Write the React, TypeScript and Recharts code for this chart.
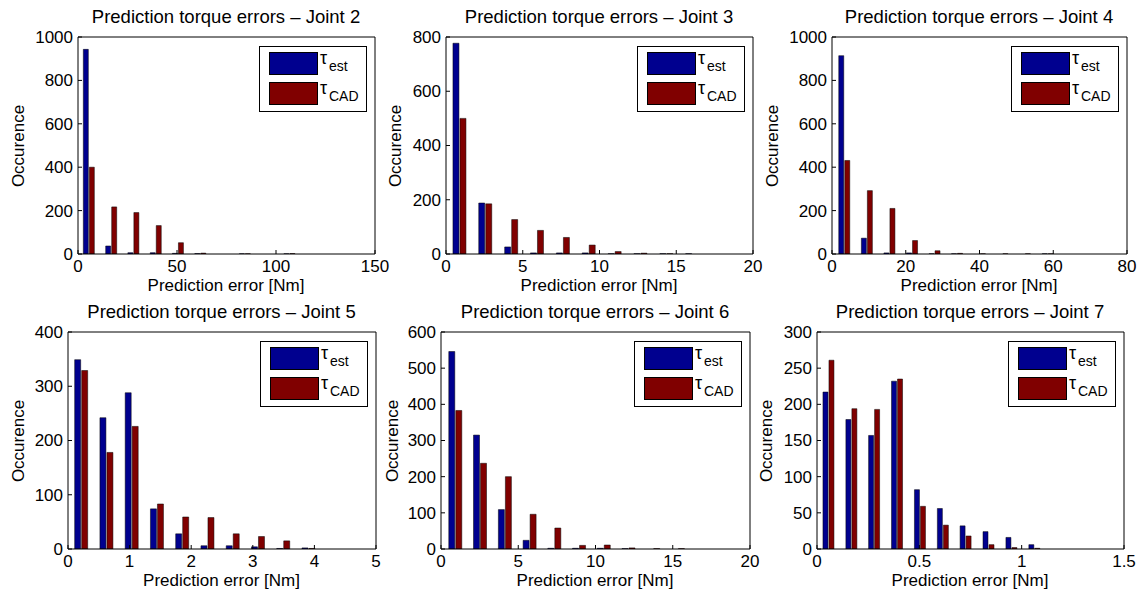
import React from "react";
import { BarChart, Bar, XAxis, YAxis, Legend } from "recharts";

// bin centres and counts per joint
const j2Bins = [5.6, 16.9, 28.1, 39.4, 50.6, 61.9, 73.1, 84.4, 95.6, 106.9];
const j2Est = [943, 37, 6, 6, 3, 2, 0, 1, 0, 1];
const j2Cad = [400, 217, 191, 131, 52, 4, 0, 1, 0, 2];

const j3Bins = [0.89, 2.57, 4.26, 5.94, 7.63, 9.31, 11.0, 12.68, 14.37, 16.05];
const j3Est = [777, 188, 26, 4, 4, 4, 1, 1, 1, 1];
const j3Cad = [500, 185, 127, 87, 61, 33, 9, 3, 1, 0];

const j4Bins = [3.42, 9.55, 15.67, 21.8, 27.9, 34.0, 40.2, 46.3, 52.4, 58.6];
const j4Est = [914, 73, 5, 5, 1, 1, 0, 0, 0, 1];
const j4Cad = [431, 292, 210, 62, 15, 3, 1, 1, 1, 1];

const j5Bins = [0.215, 0.625, 1.035, 1.445, 1.855, 2.265, 2.675, 3.085, 3.495, 3.905];
const j5Est = [349, 242, 288, 74, 28, 6, 6, 4, 1, 2];
const j5Cad = [329, 178, 226, 83, 59, 58, 28, 23, 15, 1];

const j6Bins = [0.92, 2.52, 4.13, 5.73, 7.33, 8.93, 10.53, 12.13, 13.73, 15.33];
const j6Est = [546, 315, 109, 24, 2, 2, 2, 1, 0, 0];
const j6Cad = [383, 237, 200, 96, 58, 10, 11, 3, 1, 1];

const j7Bins = [0.058, 0.17, 0.281, 0.393, 0.505, 0.617, 0.728, 0.84, 0.952, 1.064];
const j7Est = [217, 179, 157, 232, 82, 56, 32, 24, 16, 6];
const j7Cad = [261, 194, 193, 235, 59, 33, 18, 6, 2, 1];

const xTicks2 = [0, 50, 100, 150];
const xTicks3 = [0, 5, 10, 15, 20];
const xTicks4 = [0, 20, 40, 60, 80];
const xTicks5 = [0, 1, 2, 3, 4, 5];
const xTicks6 = [0, 5, 10, 15, 20];
const xTicks7 = [0, 0.5, 1, 1.5];

const yTicks2 = [0, 200, 400, 600, 800, 1000];
const yTicks3 = [0, 200, 400, 600, 800];
const yTicks4 = [0, 200, 400, 600, 800, 1000];
const yTicks5 = [0, 100, 200, 300, 400];
const yTicks6 = [0, 100, 200, 300, 400, 500, 600];
const yTicks7 = [0, 50, 100, 150, 200, 250, 300];

const FONT = "'Liberation Sans', Arial, Helvetica, sans-serif";
const BLUE = "#00008f";
const RED = "#800000";
const ML = 70, MT = 30, MR = 20, MB = 40;

type Box = { x: number; y: number; w: number; h: number };

function LegendBox() {
  return (
    <svg width={108} height={66} style={{ display: "block", fontFamily: FONT }}>
      <rect x={0.5} y={0.5} width={107} height={65} fill="#fff" stroke="#000" />
      <rect x={10.5} y={6.5} width={48} height={22} fill={BLUE} stroke="#000" />
      <text x={61} y={18} fontSize={18}>τ</text>
      <text x={70} y={25} fontSize={14}>est</text>
      <rect x={10.5} y={36.5} width={48} height={22} fill={RED} stroke="#000" />
      <text x={61} y={48} fontSize={18}>τ</text>
      <text x={70} y={55} fontSize={14}>CAD</text>
    </svg>
  );
}

function Panel({ title, bins, est, cad, xTicks, yTicks, box, yLab }: {
  title: string; bins: number[]; est: number[]; cad: number[];
  xTicks: number[]; yTicks: number[]; box: Box; yLab: number;
}) {
  const data = bins.map((x, i) => ({ x, est: est[i], cad: cad[i] }));
  const xDom = [xTicks[0], xTicks[xTicks.length - 1]];
  const yDom = [yTicks[0], yTicks[yTicks.length - 1]];

  const xTick = (p: any) => (
    <g>
      <line x1={p.x} x2={p.x} y1={p.y} y2={p.y - 4} stroke="#000" />
      <text x={p.x} y={p.y + 12} dy="0.35em" textAnchor="middle" fontSize={17} fill="#000" fontFamily={FONT}>
        {p.payload.value}
      </text>
    </g>
  );
  const yTick = (p: any) => (
    <g>
      <line x1={p.x} x2={p.x + 4} y1={p.y} y2={p.y} stroke="#000" />
      <text x={p.x - 5} y={p.y} dy="0.35em" textAnchor="end" fontSize={17} fill="#000" fontFamily={FONT}>
        {p.payload.value}
      </text>
    </g>
  );

  const label: React.CSSProperties = {
    position: "absolute", whiteSpace: "nowrap", fontFamily: FONT, color: "#000",
    transform: "translate(-50%, -50%)", lineHeight: 1,
  };

  return (
    <>
      <div style={{ position: "absolute", left: box.x - ML, top: box.y - MT }}>
        <BarChart
          width={box.w + ML + MR}
          height={box.h + MT + MB}
          data={data}
          margin={{ top: MT - 1, right: MR - 1, bottom: 10, left: ML - 45 }}
          barCategoryGap="24%"
          barGap={1}
        >
          <XAxis dataKey="x" type="number" domain={xDom} ticks={xTicks} interval={0} allowDataOverflow
            height={30} tickLine={false} tickSize={0} tickMargin={0} tick={xTick} axisLine={{ stroke: "#000" }} />
          <XAxis xAxisId="top" orientation="top" type="number" domain={xDom} ticks={xTicks} interval={0}
            height={1} mirror tick={false} tickSize={4} tickLine={{ stroke: "#000" }} axisLine={{ stroke: "#000" }} />
          <YAxis type="number" domain={yDom} ticks={yTicks} interval={0} allowDataOverflow
            width={45} tickLine={false} tickSize={0} tickMargin={0} tick={yTick} axisLine={{ stroke: "#000" }} />
          <YAxis yAxisId="right" orientation="right" type="number" domain={yDom} ticks={yTicks} interval={0}
            width={1} mirror tick={false} tickSize={4} tickLine={{ stroke: "#000" }} axisLine={{ stroke: "#000" }} />
          <Legend
            layout="horizontal" verticalAlign="middle" align="center"
            wrapperStyle={{ left: ML + box.w - 7 - 108, top: MT + 8, width: 108, height: 66 }}
            content={() => <LegendBox />}
          />
          <Bar dataKey="est" name="τest" fill={BLUE} stroke="#000" strokeWidth={0.5} isAnimationActive={false} />
          <Bar dataKey="cad" name="τCAD" fill={RED} stroke="#000" strokeWidth={0.5} isAnimationActive={false} />
        </BarChart>
      </div>
      <div style={{ ...label, left: box.x + box.w / 2, top: box.y - 21, fontSize: 18.5 }}>{title}</div>
      <div style={{ ...label, left: box.x + box.w / 2, top: box.y + box.h + 31, fontSize: 17 }}>Prediction error [Nm]</div>
      <div style={{ ...label, left: box.x - yLab, top: box.y + box.h / 2, fontSize: 17, transform: "translate(-50%, -50%) rotate(-90deg)" }}>
        Occurence
      </div>
    </>
  );
}

export default function App() {
  return (
    <div style={{ position: "absolute", left: 0, top: 0, width: 1139, height: 597, background: "#fff", overflow: "hidden" }}>
      <Panel title="Prediction torque errors – Joint 2" bins={j2Bins} est={j2Est} cad={j2Cad}
        xTicks={xTicks2} yTicks={yTicks2} box={{ x: 78, y: 38, w: 296, h: 216 }} yLab={60} />
      <Panel title="Prediction torque errors – Joint 3" bins={j3Bins} est={j3Est} cad={j3Cad}
        xTicks={xTicks3} yTicks={yTicks3} box={{ x: 446, y: 38, w: 306, h: 216 }} yLab={51} />
      <Panel title="Prediction torque errors – Joint 4" bins={j4Bins} est={j4Est} cad={j4Cad}
        xTicks={xTicks4} yTicks={yTicks4} box={{ x: 832, y: 38, w: 294, h: 216 }} yLab={60} />
      <Panel title="Prediction torque errors – Joint 5" bins={j5Bins} est={j5Est} cad={j5Cad}
        xTicks={xTicks5} yTicks={yTicks5} box={{ x: 68, y: 333, w: 307, h: 216 }} yLab={50} />
      <Panel title="Prediction torque errors – Joint 6" bins={j6Bins} est={j6Est} cad={j6Cad}
        xTicks={xTicks6} yTicks={yTicks6} box={{ x: 441, y: 333, w: 308, h: 216 }} yLab={49} />
      <Panel title="Prediction torque errors – Joint 7" bins={j7Bins} est={j7Est} cad={j7Cad}
        xTicks={xTicks7} yTicks={yTicks7} box={{ x: 817, y: 333, w: 306, h: 216 }} yLab={51} />
    </div>
  );
}
